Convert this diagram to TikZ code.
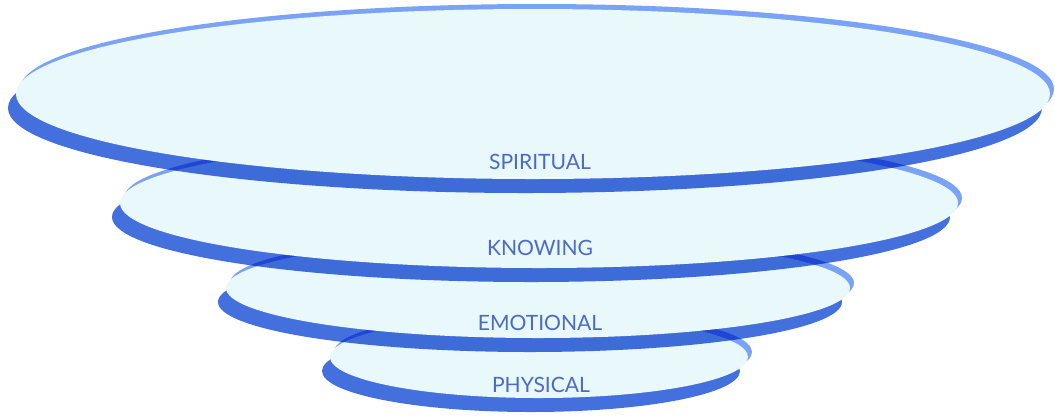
\documentclass[tikz,border=0pt]{standalone}
\usepackage{fontspec}
\setmainfont{Lato}
\definecolor{facecyan}{HTML}{E8F8FB}
\definecolor{rimblue}{HTML}{7BA3F5}
\definecolor{bandblue}{HTML}{4470DD}
\definecolor{textblue}{HTML}{4B6BC9}
\tikzstyle{face} = [fill=facecyan]
\tikzstyle{rim} = [fill=rimblue]
\tikzstyle{band} = [fill=bandblue, blend mode=multiply]
\tikzstyle{levelname} = [text=textblue, inner sep=0pt, font=\fontsize{12}{14}\selectfont]

\begin{document}
\begin{tikzpicture}[x=0.02cm, y=-0.02cm]
    \useasboundingbox (0,0) rectangle (1055,417);

    % bottom disc first, each one: underside, top rim, face
    \fill[band] (531,371) ellipse [x radius=209, y radius=41];
    \fill[rim] (543,352) ellipse [x radius=209, y radius=41];
    \fill[face] (539,357) ellipse [x radius=209, y radius=41];

    \fill[band] (530,302) ellipse [x radius=312, y radius=50];
    \fill[rim] (542,283) ellipse [x radius=312, y radius=50];
    \fill[face] (538,288) ellipse [x radius=312, y radius=50];

    \fill[band] (531,217) ellipse [x radius=419, y radius=65];
    \fill[rim] (543,198) ellipse [x radius=419, y radius=65];
    \fill[face] (539,203) ellipse [x radius=419, y radius=65];

    \fill[band] (525,108) ellipse [x radius=517, y radius=85];
    \fill[rim] (537,89) ellipse [x radius=517, y radius=85];
    \fill[face] (533,94) ellipse [x radius=517, y radius=85];

    \node (spiritual) [levelname] at (540,162) {SPIRITUAL};
    \node (knowing) [levelname] at (540,248) {KNOWING};
    \node (emotional) [levelname] at (540,323) {EMOTIONAL};
    \node (physical) [levelname] at (541,385) {PHYSICAL};

\end{tikzpicture}
\end{document}
